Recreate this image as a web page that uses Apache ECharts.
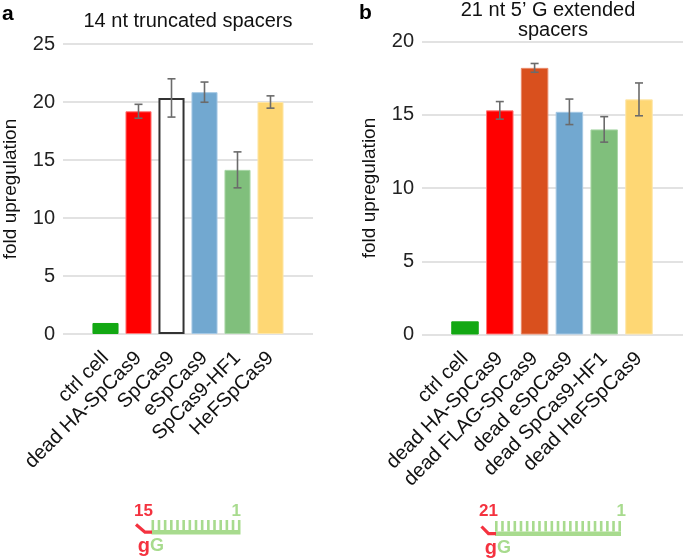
<!DOCTYPE html>
<html>
<head>
<meta charset="utf-8">
<script src="https://cdn.jsdelivr.net/npm/echarts@6/dist/echarts.min.js"></script>
<style>
html,body{margin:0;padding:0;background:#fff;}
#chart{width:685px;height:558px;}
</style>
</head>
<body>
<div id="chart"></div>
<script>
// ---- data ----
const categoriesA = ['ctrl cell','dead HA-SpCas9','SpCas9','eSpCas9','SpCas9-HF1','HeFSpCas9'];
const valuesA = [0.95, 19.2, 20.35, 20.85, 14.15, 20.0];
const errorsA = [0, 0.6, 1.65, 0.87, 1.55, 0.53];

const categoriesB = ['ctrl cell','dead HA-SpCas9','dead FLAG-SpCas9','dead eSpCas9','dead SpCas9-HF1','dead HeFSpCas9'];
const valuesB = [0.9, 15.3, 18.2, 15.2, 14.0, 16.05];
const errorsB = [0, 0.6, 0.3, 0.87, 0.87, 1.12];

const ticksA = [0, 5, 10, 15, 20, 25];
const ticksB = [0, 5, 10, 15, 20];

const titleA = '14 nt truncated spacers';
const titleB = ['21 nt 5\u2019 G extended', 'spacers'];
const yTitle = 'fold upregulation';

// ---- styles ----
const FONT = '"Liberation Sans", Arial, Helvetica, sans-serif';
const colorsA = ['#13a813', '#ff0000', '#ffffff', '#72a8d0', '#80bf7c', '#fed774'];
const bordersA = ['#13a813', '#ff7777', '#333333', '#a5c8e4', '#a9d6a6', '#fee6a8'];
const colorsB = ['#13a813', '#ff0000', '#d9501e', '#72a8d0', '#80bf7c', '#fed774'];
const bordersB = ['#13a813', '#ff7777', '#ea8a6a', '#a5c8e4', '#a9d6a6', '#fee6a8'];
const GRID_COLOR = '#d9d9d9';
const ERR_COLOR = '#6b6b6b';
const RED = '#f4323f';
const LGREEN = '#a8db8e';

const chart = echarts.init(document.getElementById('chart'));

function barData(vals, cols, borders) {
  return vals.map((v, i) => ({
    value: v,
    itemStyle: { color: cols[i], borderColor: borders[i], borderWidth: (cols[i] === '#ffffff') ? 2 : 1 }
  }));
}
function errData(vals, errs) {
  return vals.map((v, i) => [i, v, errs[i]]);
}
function renderErr(params, api) {
  const e = api.value(2);
  if (!e) return null;
  const i = api.value(0), v = api.value(1);
  const t = api.coord([i, v + e]);
  const b = api.coord([i, v - e]);
  const hw = 4;
  const st = { stroke: ERR_COLOR, lineWidth: 1.6 };
  return {
    type: 'group',
    children: [
      { type: 'line', shape: { x1: t[0], y1: t[1], x2: b[0], y2: b[1] }, style: st },
      { type: 'line', shape: { x1: t[0] - hw, y1: t[1], x2: t[0] + hw, y2: t[1] }, style: st },
      { type: 'line', shape: { x1: b[0] - hw, y1: b[1], x2: b[0] + hw, y2: b[1] }, style: st }
    ]
  };
}

function wideY(gi, max) {
  return {
    gridIndex: gi, type: 'value', min: 0, max: max, interval: 5,
    axisLine: { show: false }, axisTick: { show: false },
    axisLabel: { fontSize: 20, color: '#222', fontFamily: FONT, margin: 8 },
    splitLine: { lineStyle: { color: GRID_COLOR, width: 1.5 } },
    name: yTitle, nameLocation: 'middle', nameGap: 43,
    nameTextStyle: { fontSize: 19, color: '#111', fontFamily: FONT }
  };
}
function barY(gi, max) {
  return { gridIndex: gi, type: 'value', min: 0, max: max, interval: 5, show: false, splitLine: { show: false } };
}
function barX(gi, cats) {
  return {
    gridIndex: gi, type: 'category', data: cats,
    axisLine: { show: false }, axisTick: { show: false },
    axisLabel: { rotate: 45, interval: 0, fontSize: 20, color: '#111', fontFamily: FONT, margin: 21 }
  };
}

// comb diagram (decoration)
function comb(x0, x1, yBase, yTop, n, hook, numLeft, numX, numY, gX, letterY, label) {
  const els = [];
  els.push({ type: 'rect', shape: { x: x0, y: yBase, width: x1 - x0, height: 4.5 }, style: { fill: LGREEN } });
  const tw = 2.6;
  const step = (x1 - x0 - tw) / (n - 1);
  for (let k = 0; k < n; k++) {
    els.push({ type: 'rect', shape: { x: x0 + k * step, y: yTop, width: tw, height: yBase - yTop }, style: { fill: LGREEN } });
  }
  els.push({ type: 'polyline', shape: { points: hook }, style: { stroke: RED, lineWidth: 3.2, fill: null } });
  els.push({ type: 'text', x: numLeft, y: numY, style: { text: label, fill: RED, font: 'bold 17px ' + FONT, textAlign: 'left', textVerticalAlign: 'middle' } });
  els.push({ type: 'text', x: numX, y: numY, style: { text: '1', fill: LGREEN, font: 'bold 17px ' + FONT, textAlign: 'right', textVerticalAlign: 'middle' } });
  els.push({ type: 'text', x: gX, y: letterY, style: { text: 'g', fill: RED, font: 'bold 20px ' + FONT, textAlign: 'right', textVerticalAlign: 'middle' } });
  els.push({ type: 'text', x: gX, y: letterY, style: { text: 'G', fill: LGREEN, font: 'bold 18px ' + FONT, textAlign: 'left', textVerticalAlign: 'middle' } });
  return els;
}

const graphics = [
  { type: 'text', x: 2, y: 14, style: { text: 'a', font: 'bold 21px ' + FONT, fill: '#000', textVerticalAlign: 'middle' } },
  { type: 'text', x: 359, y: 13, style: { text: 'b', font: 'bold 21px ' + FONT, fill: '#000', textVerticalAlign: 'middle' } },
  { type: 'text', x: 188, y: 21, style: { text: titleA, font: '20px ' + FONT, fill: '#111', textAlign: 'center', textVerticalAlign: 'middle' } },
  { type: 'text', x: 548, y: 10, style: { text: titleB[0], font: '20px ' + FONT, fill: '#111', textAlign: 'center', textVerticalAlign: 'middle' } },
  { type: 'text', x: 553, y: 30, style: { text: titleB[1], font: '20px ' + FONT, fill: '#111', textAlign: 'center', textVerticalAlign: 'middle' } }
].concat(
  comb(151.5, 240.5, 530, 520, 15, [[136, 524.5], [145, 532.2], [152, 532.2]], 134, 241, 511, 150, 546, '15'),
  comb(495, 621, 531.5, 521, 21, [[481.5, 526.5], [488.5, 533.7], [496, 533.7]], 479, 626, 511.5, 497, 548, '21')
);

const option = {
  animation: false,
  backgroundColor: '#fff',
  textStyle: { fontFamily: FONT },
  grid: [
    { left: 63, top: 44, width: 250, height: 290 },
    { left: 89, top: 44, width: 198, height: 290 },
    { left: 422, top: 41.5, width: 261, height: 293 },
    { left: 447.6, top: 41.5, width: 208.8, height: 293 }
  ],
  xAxis: [
    { gridIndex: 0, type: 'value', min: 0, max: 1, show: false },
    barX(1, categoriesA),
    { gridIndex: 2, type: 'value', min: 0, max: 1, show: false },
    barX(3, categoriesB)
  ],
  yAxis: [
    wideY(0, 25),
    barY(1, 25),
    wideY(2, 20),
    barY(3, 20)
  ],
  series: [
    { type: 'bar', xAxisIndex: 1, yAxisIndex: 1, barCategoryGap: '21%', data: barData(valuesA, colorsA, bordersA) },
    { type: 'custom', xAxisIndex: 1, yAxisIndex: 1, renderItem: renderErr, data: errData(valuesA, errorsA), z: 5 },
    { type: 'bar', xAxisIndex: 3, yAxisIndex: 3, barCategoryGap: '21%', data: barData(valuesB, colorsB, bordersB) },
    { type: 'custom', xAxisIndex: 3, yAxisIndex: 3, renderItem: renderErr, data: errData(valuesB, errorsB), z: 5 }
  ],
  graphic: graphics
};
chart.setOption(option);
</script>
</body>
</html>
